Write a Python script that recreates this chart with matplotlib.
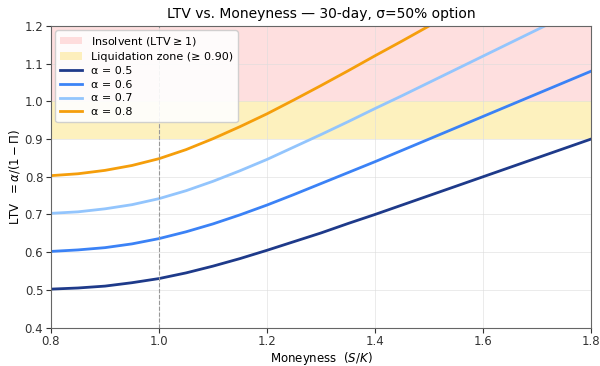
import matplotlib
matplotlib.use("Agg")
import matplotlib.pyplot as plt

# moneyness grid and LTV curves
moneyness = [0.80, 0.85, 0.90, 0.95, 1.00, 1.05, 1.10, 1.15, 1.20, 1.25, 1.30,
             1.35, 1.40, 1.45, 1.50, 1.55, 1.60, 1.65, 1.70, 1.75, 1.80]
ltv_05 = [0.502, 0.505, 0.510, 0.519, 0.530, 0.545, 0.563, 0.583, 0.605, 0.628, 0.651,
          0.676, 0.700, 0.725, 0.750, 0.775, 0.800, 0.825, 0.850, 0.875, 0.900]
ltv_06 = [0.602, 0.606, 0.612, 0.622, 0.636, 0.654, 0.675, 0.699, 0.725, 0.753, 0.782,
          0.811, 0.840, 0.870, 0.900, 0.930, 0.960, 0.990, 1.020, 1.050, 1.080]
ltv_07 = [0.703, 0.707, 0.715, 0.726, 0.742, 0.763, 0.788, 0.816, 0.846, 0.879, 0.912,
          0.946, 0.981, 1.015, 1.050, 1.085, 1.120, 1.155, 1.190, 1.225, 1.260]
ltv_08 = [0.803, 0.808, 0.817, 0.830, 0.848, 0.872, 0.901, 0.933, 0.967, 1.004, 1.042,
          1.081, 1.121, 1.160, 1.200, 1.240, 1.280, 1.320, 1.360, 1.400, 1.440]

alphas = ["0.5", "0.6", "0.7", "0.8"]
curves = [ltv_05, ltv_06, ltv_07, ltv_08]
colors = ["#1e3a8a", "#3b82f6", "#93c5fd", "#f59e0b"]

fig = plt.figure(figsize=(6, 3.66), dpi=100)
ax = fig.add_axes([0.085, 0.105, 0.9, 0.824])

ax.axhspan(1.0, 1.2, color="#fecaca", alpha=0.6, lw=0, label="Insolvent (LTV$\\geq$1)")
ax.axhspan(0.9, 1.0, color="#fde68a", alpha=0.55, lw=0, label="Liquidation zone (≥ 0.90)")

for a, y, c in zip(alphas, curves, colors):
    ax.plot(moneyness, y, color=c, lw=2, label="α = " + a)

ax.axvline(1.0, color="#999999", ls="--", lw=0.8)

ax.set_xlim(0.8, 1.8)
ax.set_ylim(0.4, 1.2)
ax.grid(True, color="#dddddd", lw=0.6, alpha=0.7)
for s in ax.spines.values():
    s.set_color("#666666")
ax.tick_params(labelsize=8.5, colors="#333333", pad=2)

ax.set_title("LTV vs. Moneyness — 30-day, σ=50% option", fontsize=10)
ax.set_xlabel("Moneyness  ($S/K$)", fontsize=8.5, labelpad=1)
ax.set_ylabel("LTV  $= \\alpha/(1 - \\Pi)$", fontsize=8.5, labelpad=2)
ax.legend(loc="upper left", fontsize=8, framealpha=0.9, labelspacing=0.35,
          borderaxespad=0.4)

fig.savefig("out.png", dpi=100)
